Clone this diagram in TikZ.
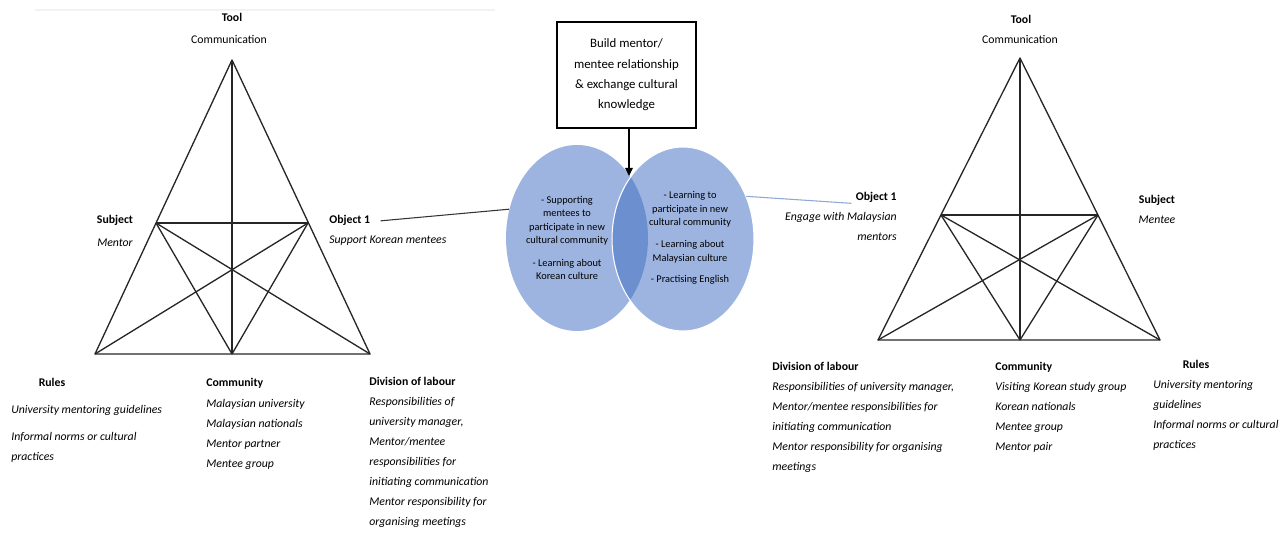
\documentclass[tikz,border=0pt]{standalone}
\usepackage{fontspec}
\setmainfont{Carlito}
\usetikzlibrary{arrows.meta, positioning, shapes.geometric}
\definecolor{vennblue}{HTML}{9EB4E0}
\definecolor{lensblue}{HTML}{6C8FD0}
\definecolor{linkblue}{HTML}{8FA6D6}
\newcommand{\lblsize}{\fontsize{6.7}{11.4}\selectfont}
\newcommand{\vennsize}{\fontsize{5.9}{7.7}\selectfont}
\newcommand{\boxsize}{\fontsize{7.3}{11.6}\selectfont}

\begin{document}
\begin{tikzpicture}[
  x=0.02cm, y=-0.02cm,
  tri/.style={line width=0.75pt, line join=round, black!85},
  head/.style={font=\lblsize\bfseries, inner sep=0pt},
  plain/.style={font=\lblsize, inner sep=0pt},
  emph/.style={font=\lblsize\itshape, inner sep=0pt},
  items/.style={font=\lblsize\itshape, align=left, inner sep=0pt,
    anchor=north west},
  blob/.style={ellipse, fill=vennblue, minimum width=2.84cm,
    minimum height=3.72cm, inner sep=0pt},
  venntext/.style={font=\vennsize, align=center, inner sep=0pt},
  >=Triangle
]
  \useasboundingbox (0,0) rectangle (1286,533);
  \draw[black!5, line width=0.8pt] (35,10) -- (495,10);

  % Left activity system
  \coordinate (l-T)  at (232,60);
  \coordinate (l-BL) at (95,354);
  \coordinate (l-BR) at (370,354);
  \coordinate (l-BM) at (232,354);
  \coordinate (l-ML) at (156,223);
  \coordinate (l-MR) at (308,223);

  % Right activity system
  \coordinate (r-T)  at (1020,58);
  \coordinate (r-BL) at (878,340);
  \coordinate (r-BR) at (1160,340);
  \coordinate (r-BM) at (1020,340);
  \coordinate (r-ML) at (941,215);
  \coordinate (r-MR) at (1098,215);

  \foreach \s in {l,r} {
    \draw[tri] (\s-T) -- (\s-BL) -- (\s-BR) -- cycle;
    \foreach \a/\b in {T/BM, ML/MR, ML/BR, MR/BL, ML/BM, MR/BM}
      \draw[tri] (\s-\a) -- (\s-\b);
  }

  % Left labels
  \node[head, anchor=base] (lToolH) at (232,22) {Tool};
  \node[plain, anchor=base] (lTool) at (229,44) {Communication};
  \node[head, anchor=base] (lSubjH) at (115,224) {Subject};
  \node[emph, anchor=base] (lSubj) at (115,247) {Mentor};
  \node[head, anchor=base west] (lObjH) at (329,224) {Object 1};
  \node[emph, anchor=base west] (lObj) at (329,244) {Support Korean mentees};

  \node[head, anchor=base] (lRulesH) at (52,387) {Rules};
  \node[items] (lRules) at (11,405)
    {University mentoring guidelines\\[4pt]Informal norms or cultural\\practices};
  \node[head, anchor=base west] (lCommH) at (206,387) {Community};
  \node[items] (lComm) at (206,399)
    {Malaysian university\\Malaysian nationals\\Mentor partner\\Mentee group};
  \node[head, anchor=base west] (lDivH) at (369,386) {Division of labour};
  \node[items] (lDiv) at (369,397)
    {Responsibilities of\\university manager,\\Mentor/mentee\\responsibilities for\\initiating communication\\Mentor responsibility for\\organising meetings};

  % Right labels
  \node[head, anchor=base] (rToolH) at (1021,24) {Tool};
  \node[plain, anchor=base] (rTool) at (1020,44) {Communication};
  \node[head, anchor=base east] (rObjH) at (897,201) {Object 1};
  \node[items, align=right, anchor=north east] (rObj) at (897,212)
    {Engage with Malaysian\\mentors};
  \node[head, anchor=base] (rSubjH) at (1157,204) {Subject};
  \node[emph, anchor=base] (rSubj) at (1157,224) {Mentee};

  \node[head, anchor=base west] (rDivH) at (772,371) {Division of labour};
  \node[items] (rDiv) at (772,382)
    {Responsibilities of university manager,\\Mentor/mentee responsibilities for\\initiating communication\\Mentor responsibility for organising\\meetings};
  \node[head, anchor=base west] (rCommH) at (995,371) {Community};
  \node[items] (rComm) at (995,382)
    {Visiting Korean study group\\Korean nationals\\Mentee group\\Mentor pair};
  \node[head, anchor=base] (rRulesH) at (1196,369) {Rules};
  \node[items] (rRules) at (1153,380)
    {University mentoring\\guidelines\\Informal norms or cultural\\practices};

  % Shared object
  \node[draw, line width=0.8pt, font=\boxsize, align=center,
    minimum width=2.78cm, minimum height=2.12cm] (goal) at (626.5,75)
    {Build mentor/\\mentee relationship\\\& exchange cultural\\knowledge};

  \node[blob] (lEll) at (577,238) {};
  \node[blob, minimum height=3.68cm] (rEll) at (683,239) {};
  \begin{scope}
    \clip (577,238) ellipse [x radius=1.42cm, y radius=1.86cm];
    \fill[lensblue] (683,239) ellipse [x radius=1.42cm, y radius=1.84cm];
  \end{scope}
  \draw[white, line width=0.6pt] (683,239) ellipse [x radius=1.42cm, y radius=1.84cm];

  \node[venntext] (lVenn) at (567,238)
    {- Supporting\\mentees to\\participate in new\\cultural community\\[5pt]- Learning about\\Korean culture};
  \node[venntext] (rVenn) at (690,238)
    {- Learning to\\participate in new\\cultural community\\[5pt]- Learning about\\Malaysian culture\\[4.5pt]- Practising English};

  \coordinate (lensTop) at (629,176);
  \draw[->, >={Triangle[length=0.16cm, width=0.15cm]}, line width=0.6pt]
    (goal.south -| lensTop) -- (lensTop);

  \draw[black!80, line width=0.6pt] ([xshift=0.2cm]lObjH.east) -- (lEll.157);
  \draw[linkblue, line width=0.6pt] (rEll.34) -- ([xshift=-0.08cm]rObjH.south west);
\end{tikzpicture}
\end{document}
